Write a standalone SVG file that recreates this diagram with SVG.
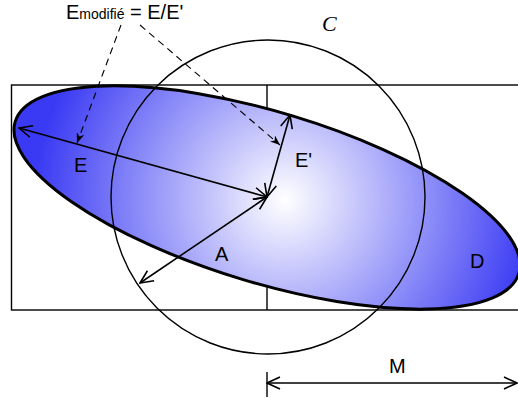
<svg xmlns="http://www.w3.org/2000/svg" width="518" height="398" viewBox="0 0 518 398">
<style>
.lbl{font-family:"Liberation Sans",Arial,sans-serif;font-size:20px;fill:#000}
.thin{fill:none;stroke:#000;stroke-width:1.4}
.arr{fill:none;stroke:#000;stroke-width:1.6;marker-start:url(#open);marker-end:url(#open)}
.dash{fill:none;stroke:#000;stroke-width:1.1;stroke-dasharray:7 5;marker-end:url(#dhead)}
</style>
<defs>
<radialGradient id="grad" gradientUnits="userSpaceOnUse" cx="285" cy="195" r="250">
<stop offset="0" stop-color="#ffffff"/>
<stop offset="1" stop-color="#3a3af4"/>
</radialGradient>
<marker id="open" viewBox="0 0 15 14" refX="14" refY="7" markerWidth="15" markerHeight="14" markerUnits="userSpaceOnUse" orient="auto-start-reverse">
<path d="M1,1 L14,7 L1,13" fill="none" stroke="#000" stroke-width="1.6"/>
</marker>
<marker id="dhead" viewBox="0 0 10 8" refX="10" refY="4" markerWidth="10" markerHeight="8" markerUnits="userSpaceOnUse" orient="auto">
<path d="M0,0 L10,4 L0,8 L3,4 Z" fill="#000"/>
</marker>
</defs>
<g id="frame">
<rect x="11.5" y="85" width="520" height="225" class="thin"/>
<line x1="267" y1="85" x2="267" y2="310" class="thin"/>
</g>
<g id="D">
<ellipse cx="267" cy="197.5" rx="263" ry="85.5" transform="rotate(16.77 267 197.5)" fill="url(#grad)" stroke="#000" stroke-width="3"/>
<text class="lbl" x="470" y="268">D</text>
</g>
<g id="C">
<circle cx="268" cy="197" r="157" class="thin"/>
<text x="322" y="31" font-family="'Liberation Serif','DejaVu Serif',serif" font-style="italic" font-size="22">C</text>
</g>
<g id="connectors">
<line x1="267" y1="197" x2="19" y2="128" class="arr"/>
<line x1="267" y1="197" x2="290" y2="115" class="arr"/>
<line x1="267" y1="197" x2="140" y2="283" class="arr"/>
<line x1="267" y1="383" x2="517" y2="383" class="arr"/>
<line x1="267" y1="372" x2="267" y2="397" class="thin"/>
<line x1="121" y1="25" x2="77" y2="143" class="dash"/>
<line x1="140" y1="25" x2="280" y2="145" class="dash"/>
</g>
<g id="labels">
<text class="lbl" x="74" y="172">E</text>
<text class="lbl" x="295" y="167">E'</text>
<text class="lbl" x="215" y="261">A</text>
<text class="lbl" x="389" y="373">M</text>
<text class="lbl" x="66" y="19" font-size="17">E<tspan font-size="14">modifié</tspan> = E/E'</text>
</g>
</svg>
